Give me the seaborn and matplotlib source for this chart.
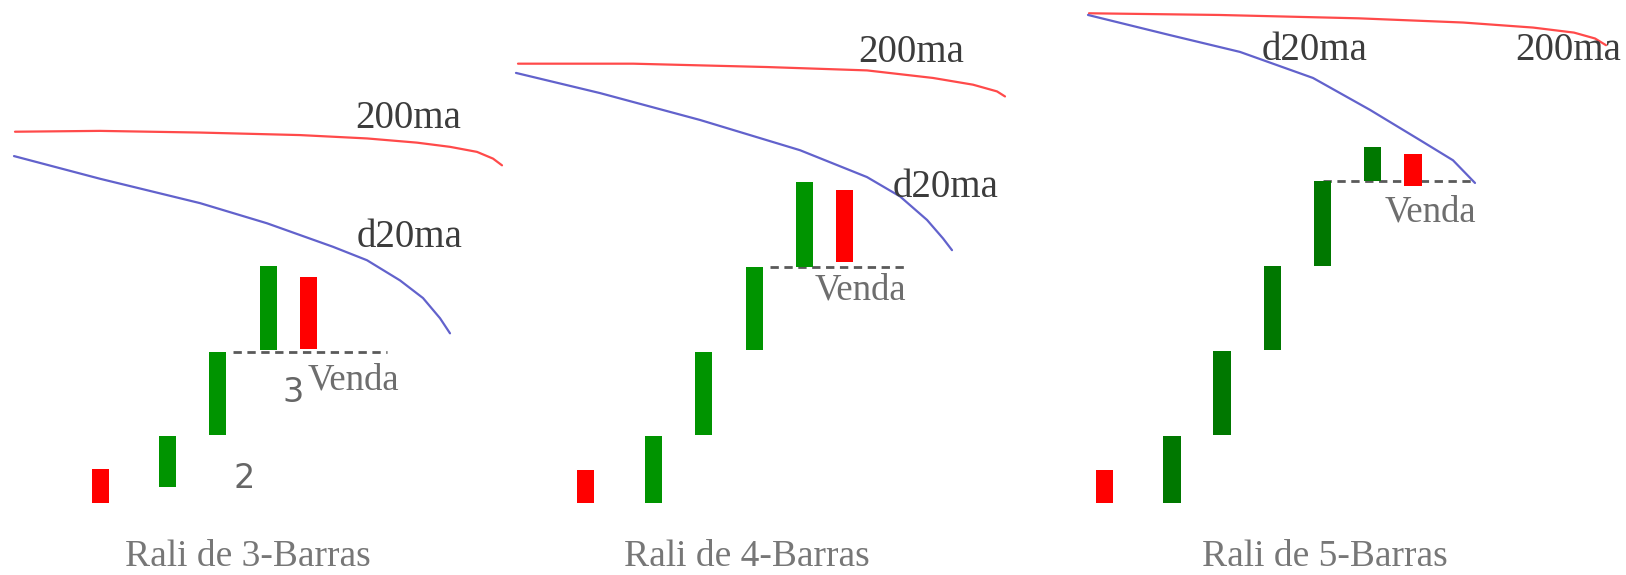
import matplotlib
matplotlib.use('Agg')
import matplotlib.pyplot as plt
import seaborn as sns

# Velas de cada painel: posicao (em barras), abertura, fecho
P1_X = [2.01, 3.34, 4.35, 5.36, 6.16]
P1_OPEN = [4.0, 1.9, 8.1, 18.2, 26.9]
P1_CLOSE = [0.0, 8.0, 18.0, 28.2, 18.3]

P2_X = [1.71, 3.06, 4.06, 5.08, 6.08, 6.88]
P2_OPEN = [3.9, 0.0, 8.1, 18.2, 28.1, 37.3]
P2_CLOSE = [0.0, 8.0, 18.0, 28.1, 38.2, 28.7]

P3_X = [0.89, 2.24, 3.24, 4.25, 5.25, 6.25, 7.06]
P3_OPEN = [3.9, 0.0, 8.1, 18.2, 28.2, 38.3, 41.5]
P3_CLOSE = [0.0, 8.0, 18.1, 28.2, 38.3, 42.4, 37.7]

# Medias moveis (200ma e d20ma)
P1_MA200_X = [0.30, 2.00, 4.00, 6.00, 7.34, 8.34, 9.00, 9.54, 9.86, 10.04]
P1_MA200_Y = [44.2, 44.3, 44.1, 43.8, 43.4, 42.9, 42.4, 41.8, 41.0, 40.2]
P1_D20_X = [0.28, 2.00, 4.00, 5.34, 6.66, 7.34, 8.00, 8.46, 8.80, 9.00]
P1_D20_Y = [41.3, 38.6, 35.7, 33.3, 30.5, 28.9, 26.5, 24.4, 22.0, 20.2]

P2_MA200_X = [0.36, 2.66, 5.34, 7.34, 8.66, 9.46, 9.94, 10.10]
P2_MA200_Y = [52.3, 52.3, 51.9, 51.5, 50.6, 49.8, 49.0, 48.4]
P2_D20_X = [0.32, 2.00, 4.00, 6.00, 7.34, 8.00, 8.54, 8.86, 9.04]
P2_D20_Y = [51.2, 48.8, 45.6, 42.0, 38.8, 36.5, 33.7, 31.5, 30.1]

P3_MA200_X = [0.58, 3.18, 5.97, 8.06, 9.46, 10.28, 10.70, 10.92]
P3_MA200_Y = [58.3, 58.1, 57.7, 57.2, 56.6, 56.0, 55.3, 54.5]
P3_D20_X = [0.56, 2.20, 3.60, 5.06, 6.20, 7.20, 7.86, 8.30]
P3_D20_Y = [58.1, 55.7, 53.7, 50.6, 46.8, 43.2, 40.8, 38.1]

# Nivel de venda (linha tracejada)
P1_VENDA = 18.0
P2_VENDA = 28.1
P3_VENDA = 38.3

TITULOS = ['Rali de 3-Barras', 'Rali de 4-Barras', 'Rali de 5-Barras']

FIG_W, FIG_H = 1626, 575


def desenhar_painel(ax, xs, opens, closes, ma200, d20, venda, venda_x, verde,
                    pos_200, pos_d20, pos_venda, titulo_x, titulo, largura=0.34):
    for x, o, c in zip(xs, opens, closes):
        cor = verde if c >= o else '#ff0000'
        ax.bar(x, abs(c - o), bottom=min(o, c), width=largura, color=cor,
               linewidth=0, zorder=3)

    sns.lineplot(x=ma200[0], y=ma200[1], ax=ax, color='#ff4a4a', linewidth=1.6,
                 sort=False, estimator=None)
    sns.lineplot(x=d20[0], y=d20[1], ax=ax, color='#6262cc', linewidth=1.6,
                 sort=False, estimator=None)

    ax.plot(venda_x, [venda, venda], color='#5a5a5a', linestyle=(0, (3, 2)),
            linewidth=2, zorder=2)

    ax.text(pos_200[0], pos_200[1], '200ma', fontsize=28, color='#3c3c3c',
            va='baseline', ha='left')
    ax.text(pos_d20[0], pos_d20[1], 'd20ma', fontsize=28, color='#3c3c3c',
            va='baseline', ha='left')
    ax.text(pos_venda[0], pos_venda[1], 'Venda', fontsize=26.5, color='#6e6e6e',
            va='baseline', ha='left')
    ax.text(titulo_x, -8.5, titulo, fontsize=27, color='#777777',
            va='bottom', ha='center')


sns.set_theme(style='white')
plt.rcParams['font.family'] = ['Liberation Serif', 'DejaVu Serif']

fig = plt.figure(figsize=(FIG_W / 100, FIG_H / 100), dpi=100)
fig.patch.set_facecolor('white')

# Cada painel: 1 unidade x = 50 px, 1 unidade y = 8.4 px
paineis = [(0, 515), (500, 560), (1060, 566)]
eixos = []
for left, w in paineis:
    ax = fig.add_axes([left / FIG_W, 0, w / FIG_W, 1])
    ax.set_xlim(0, w / 50)
    ax.set_ylim(-(FIG_H - 503) / 8.4, 503 / 8.4)
    ax.set_axis_off()
    ax.patch.set_alpha(0)
    eixos.append(ax)

desenhar_painel(eixos[0], P1_X, P1_OPEN, P1_CLOSE, (P1_MA200_X, P1_MA200_Y),
                (P1_D20_X, P1_D20_Y), P1_VENDA, [4.66, 7.74], '#009400',
                (7.1, 44.6), (7.14, 30.5), (6.16, 13.5), 4.96, TITULOS[0])
desenhar_painel(eixos[1], P2_X, P2_OPEN, P2_CLOSE, (P2_MA200_X, P2_MA200_Y),
                (P2_D20_X, P2_D20_Y), P2_VENDA, [5.4, 8.14], '#009400',
                (7.16, 52.5), (7.86, 36.4), (6.3, 24.2), 4.94, TITULOS[1])
desenhar_painel(eixos[2], P3_X, P3_OPEN, P3_CLOSE, (P3_MA200_X, P3_MA200_Y),
                (P3_D20_X, P3_D20_Y), P3_VENDA, [5.26, 8.3], '#007800',
                (9.1, 52.7), (4.04, 52.7), (6.5, 33.5), 5.3, TITULOS[2],
                largura=0.35)

# Numeros de contagem no primeiro painel
eixos[0].text(4.68, 1.8, '2', fontsize=24, color='#666666', family='DejaVu Sans',
              va='baseline')
eixos[0].text(5.64, 12.0, '3', fontsize=24, color='#666666', family='DejaVu Sans',
              va='baseline')

plt.savefig('out.png', dpi=100)
